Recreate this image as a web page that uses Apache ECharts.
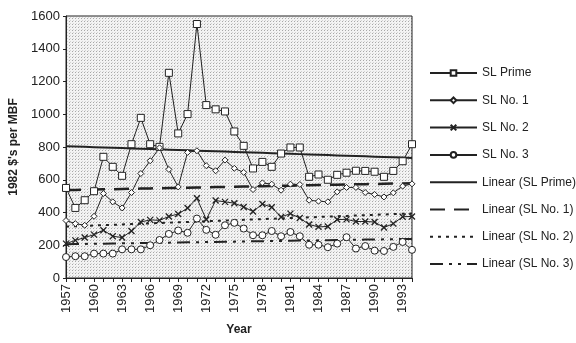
<!DOCTYPE html>
<html><head><meta charset="utf-8">
<script src="https://cdn.jsdelivr.net/npm/echarts@6/dist/echarts.min.js"></script>
<style>html,body{margin:0;padding:0;background:#fff}#c{width:576px;height:343px}</style>
</head><body><div id="c"></div>
<script>
var years = [];
for (var y = 1957; y <= 1994; y++) years.push(String(y));
var slPrime = [550,428,475,530,740,679,624,817,978,817,801,1253,883,1001,1551,1056,1030,1017,895,807,669,709,679,760,797,797,618,632,600,630,643,655,654,649,618,654,713,817];
var slNo1 = [351,332,322,377,516,465,428,522,638,716,795,663,556,767,777,686,655,720,670,645,540,581,573,536,573,571,475,469,465,526,553,553,522,510,495,520,561,575];
var slNo2 = [210,230,247,265,292,255,247,287,342,355,352,376,391,427,487,357,473,465,457,434,406,452,432,373,393,366,327,312,315,357,358,345,345,342,308,332,374,376];
var slNo3 = [128,133,133,149,149,149,175,175,175,200,232,269,290,276,363,294,264,322,337,302,261,261,287,255,281,255,203,203,188,210,249,180,195,167,165,190,220,172];
var yTicks = [0,200,400,600,800,1000,1200,1400,1600];

function linear(arr){
  var n = arr.length, sx=0, sy=0, sxx=0, sxy=0;
  for (var i=0;i<n;i++){ sx+=i; sy+=arr[i]; sxx+=i*i; sxy+=i*arr[i]; }
  var b = (n*sxy - sx*sy)/(n*sxx - sx*sx), a = (sy - b*sx)/n;
  return arr.map(function(_,i){ return a + b*i; });
}

var cv = document.createElement('canvas'); cv.width = 3; cv.height = 3;
var cx = cv.getContext('2d');
cx.fillStyle = '#f3f3f3'; cx.fillRect(0,0,3,3);
cx.fillStyle = '#a8a8a8'; cx.fillRect(0,0,1,1);
cx.fillStyle = '#d4d4d4'; cx.fillRect(1,2,1,1);

var ink = '#222';
var font = 'Liberation Sans';
var xPath = 'path://M0,0L10,10M10,0L0,10';

function dataSeries(name, data, symbol, size){
  return {
    name: name, type: 'line', data: data, symbol: symbol, symbolSize: size,
    showAllSymbol: true, z: 3,
    lineStyle: {color: ink, width: 1},
    itemStyle: symbol === xPath ? {color: ink, borderColor: ink, borderWidth: 1.3} : {color: '#fff', borderColor: ink, borderWidth: 1},
    emphasis: {disabled: true}
  };
}
function trend(name, data, type, width){
  return {
    name: name, type: 'line', data: linear(data), symbol: 'none', z: 2,
    lineStyle: {color: ink, width: width, type: type},
    itemStyle: {color: ink},
    emphasis: {disabled: true}
  };
}
var hidden = {color: 'rgba(0,0,0,0)', borderColor: 'rgba(0,0,0,0)', borderWidth: 0};

var chart = echarts.init(document.getElementById('c'), null, {renderer: 'canvas'});
chart.setOption({
  animation: false,
  backgroundColor: '#fff',
  grid: {left: 66, right: 164, top: 16, bottom: 65, show: true,
    backgroundColor: {image: cv, repeat: 'repeat'}, borderColor: ink, borderWidth: 1},
  xAxis: {
    type: 'category', data: years, boundaryGap: false,
    name: 'Year', nameLocation: 'middle', nameGap: 46,
    nameTextStyle: {fontFamily: font, fontWeight: 'bold', fontSize: 12, color: ink},
    axisLine: {lineStyle: {color: ink, width: 1}},
    axisTick: {interval: 0, length: 4, lineStyle: {color: ink}},
    axisLabel: {interval: 2, rotate: 90, margin: 6, fontFamily: font, fontSize: 13, color: ink},
    splitLine: {show: false}
  },
  yAxis: {
    type: 'value', min: yTicks[0], max: yTicks[yTicks.length-1], interval: 200,
    name: "1982 $'s per MBF", nameLocation: 'middle', nameGap: 46,
    nameTextStyle: {fontFamily: font, fontWeight: 'bold', fontSize: 12, color: ink},
    axisLine: {show: true, lineStyle: {color: ink, width: 1}},
    axisTick: {show: true, length: 3, lineStyle: {color: ink}},
    axisLabel: {fontFamily: font, fontSize: 13, color: ink, margin: 6, formatter: function(v){ return String(v); }},
    splitLine: {show: false}
  },
  legend: {
    orient: 'vertical', left: 424, top: 62, itemWidth: 47, itemHeight: 7, itemGap: 15.3,
    textStyle: {fontFamily: font, fontSize: 12, color: ink},
    data: ['SL Prime','SL No. 1','SL No. 2','SL No. 3',
      {name: 'Linear (SL Prime)', itemStyle: hidden},
      {name: 'Linear (SL No. 1)', itemStyle: hidden},
      {name: 'Linear (SL No. 2)', itemStyle: hidden},
      {name: 'Linear (SL No. 3)', itemStyle: hidden}]
  },
  series: [
    dataSeries('SL Prime', slPrime, 'rect', 7),
    dataSeries('SL No. 1', slNo1, 'diamond', 6),
    dataSeries('SL No. 2', slNo2, xPath, 6),
    dataSeries('SL No. 3', slNo3, 'circle', 7),
    trend('Linear (SL Prime)', slPrime, 'solid', 2),
    trend('Linear (SL No. 1)', slNo1, [15, 9], 2.5),
    trend('Linear (SL No. 2)', slNo2, [3, 5], 2),
    trend('Linear (SL No. 3)', slNo3, [13, 6, 3, 6, 3, 6], 2)
  ]
});
</script></body></html>
